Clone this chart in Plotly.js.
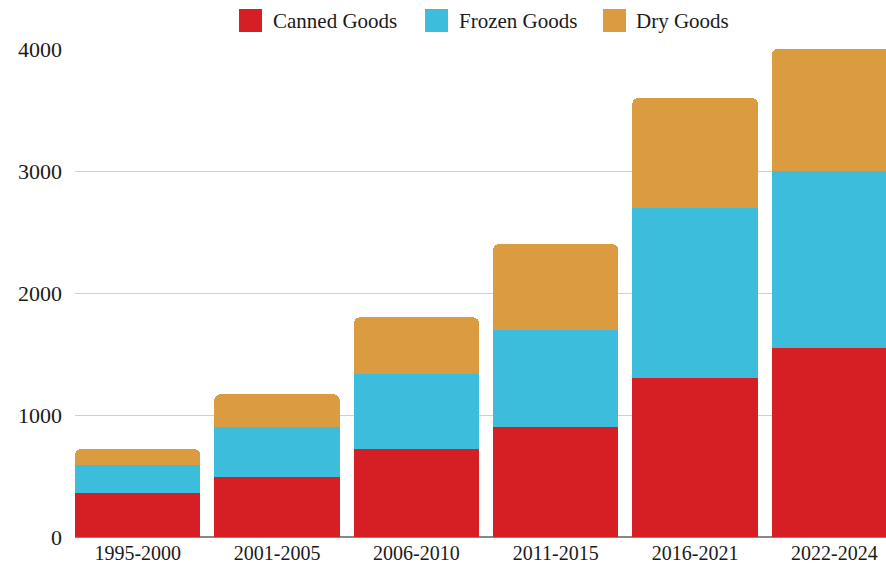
<!DOCTYPE html>
<html>
<head>
<meta charset="utf-8">
<script src="https://cdn.plot.ly/plotly-3.0.1.min.js"></script>
<style>
html,body{margin:0;padding:0;background:#fff;overflow:hidden;}
#chart{width:886px;height:565px;}
</style>
</head>
<body>
<div id="chart"></div>
<script>
var categories = ["1995-2000","2001-2005","2006-2010","2011-2015","2016-2021","2022-2024"];
var canned = [360, 490, 720, 900, 1300, 1550];
var frozen = [230, 410, 620, 800, 1400, 1450];
var dry = [130, 270, 460, 700, 900, 1000];
var seriesNames = ["Canned Goods","Frozen Goods","Dry Goods"];
var yTicks = [0, 1000, 2000, 3000, 4000];

var colors = ["#D61E25", "#3CBDDC", "#DB9C41"];
var series = [canned, frozen, dry];
var FONT = "'Liberation Serif', 'DejaVu Serif', serif";
var TXT = "#1a1a1a";

var traces = series.map(function(vals, i){
  return {
    type: "bar",
    name: seriesNames[i],
    x: categories,
    y: vals,
    marker: {color: colors[i], line: {width: 0}},
    showlegend: false,
    hoverinfo: "x+y+name"
  };
});

// custom legend (layout decoration): square swatches + labels
var legendPos = [
  {sx0: 0.2022, sx1: 0.2306, tx: 0.2417},
  {sx0: 0.4316, sx1: 0.4599, tx: 0.4710},
  {sx0: 0.6510, sx1: 0.6794, tx: 0.6893}
];
var shapes = legendPos.map(function(p, i){
  return {type: "rect", xref: "paper", yref: "paper",
    x0: p.sx0, x1: p.sx1, y0: 1.0348, y1: 1.082,
    fillcolor: colors[i], line: {width: 0}};
});
var annotations = legendPos.map(function(p, i){
  return {xref: "paper", yref: "paper", x: p.tx, y: 1.0584,
    xanchor: "left", yanchor: "middle", showarrow: false,
    text: seriesNames[i], font: {family: FONT, size: 21, color: TXT}};
});

var layout = {
  width: 886,
  height: 565,
  barmode: "stack",
  bargap: 0.1,
  barcornerradius: 6,
  paper_bgcolor: "#fff",
  plot_bgcolor: "#fff",
  margin: {l: 75, r: 0, t: 49, b: 28},
  font: {family: FONT, size: 20, color: TXT},
  showlegend: false,
  shapes: shapes,
  annotations: annotations,
  xaxis: {
    type: "category",
    range: [-0.45, 5.37],
    showgrid: false,
    showline: false,
    ticks: "",
    ticklabelstandoff: 2,
    tickfont: {family: FONT, size: 20, color: TXT}
  },
  yaxis: {
    range: [0, 4000],
    tickvals: yTicks,
    ticktext: yTicks.map(String),
    showgrid: true,
    gridcolor: "#d0d0d0",
    gridwidth: 1,
    zeroline: true,
    zerolinecolor: "#888",
    zerolinewidth: 1.5,
    showline: false,
    ticks: "",
    ticklabelstandoff: 12,
    tickfont: {family: FONT, size: 22, color: TXT}
  }
};

Plotly.newPlot("chart", traces, layout, {displayModeBar: false, staticPlot: true});
</script>
</body>
</html>
